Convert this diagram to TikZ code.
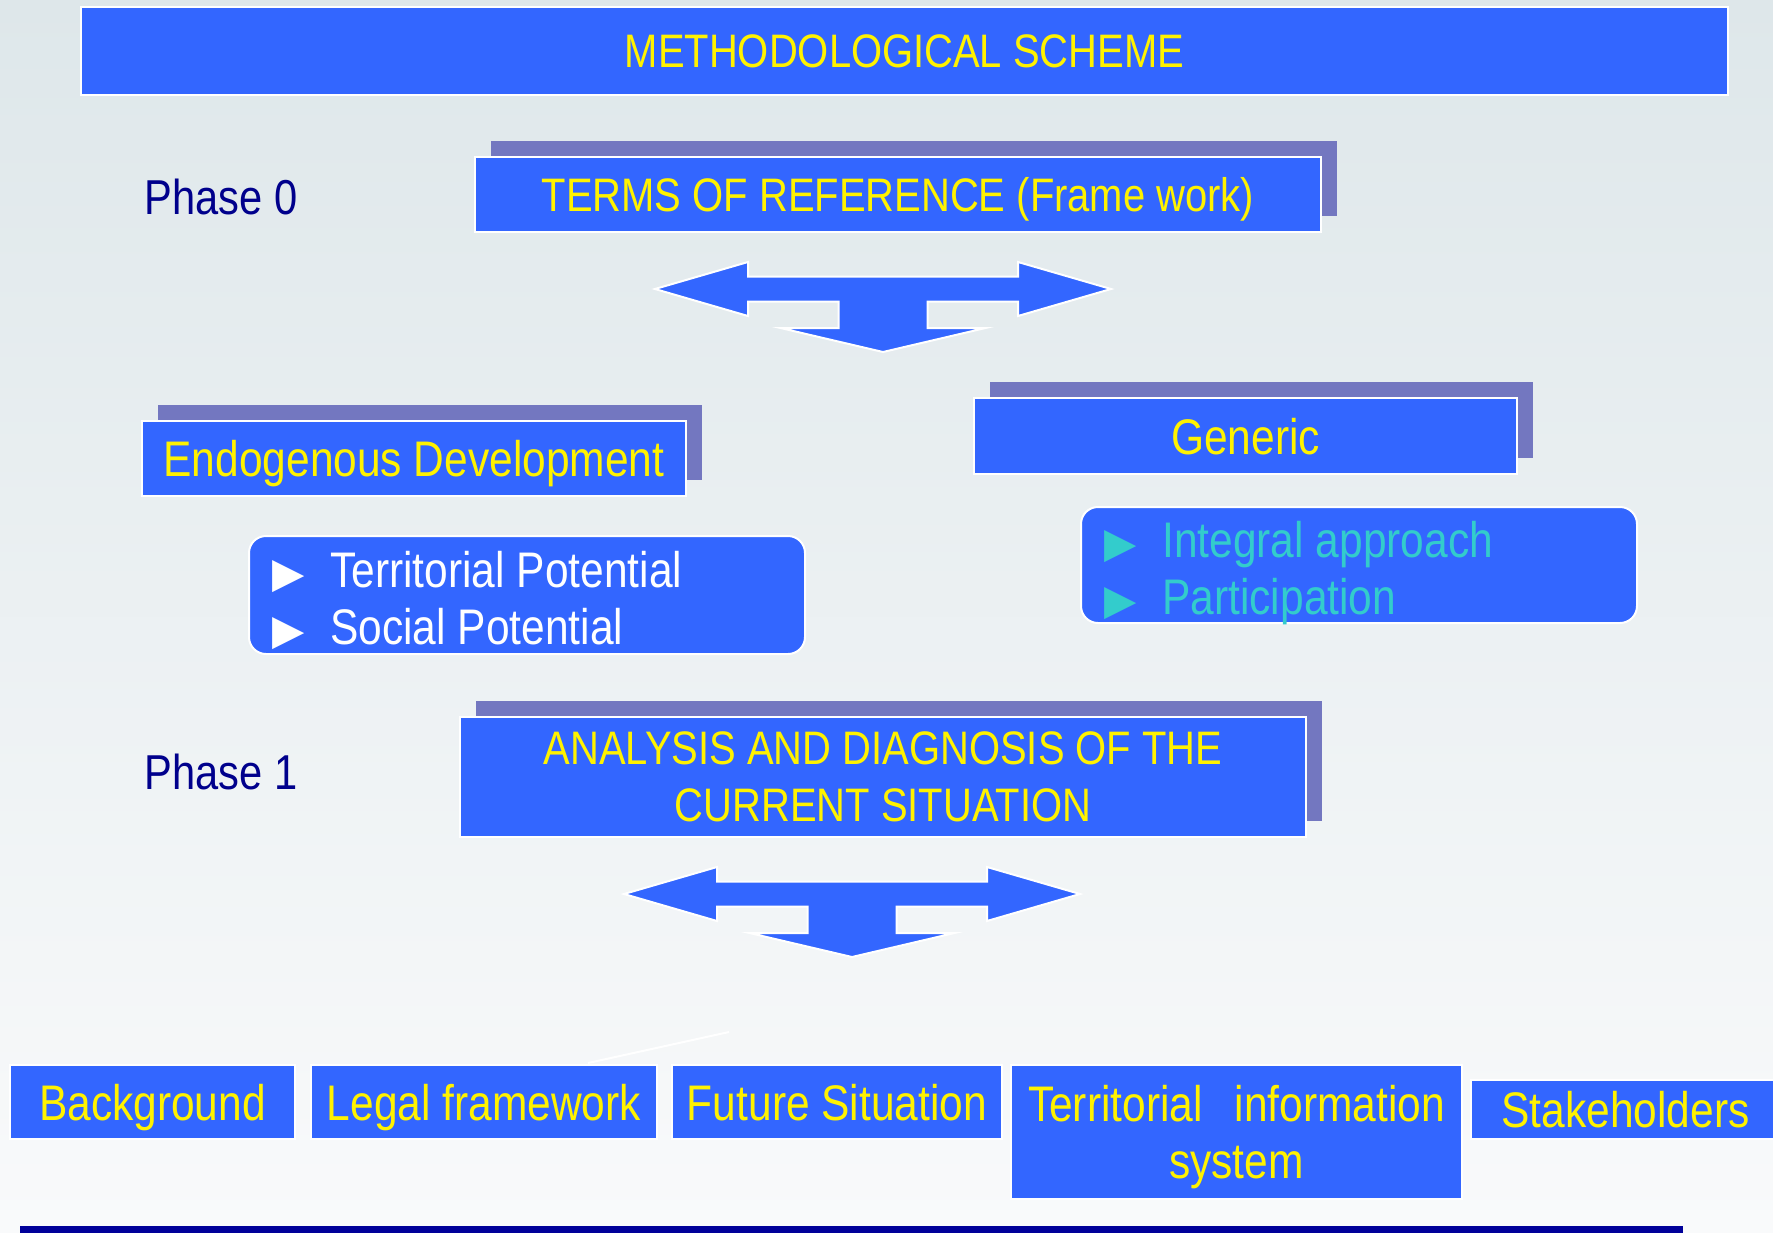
\documentclass[tikz,border=0pt]{standalone}
\usepackage{fontspec}
\setmainfont[FakeStretch=0.85]{Liberation Sans}
\newfontfamily\symfont{DejaVu Sans}
\usepackage{tikz}
\usetikzlibrary{shadows}

\definecolor{boxblue}{RGB}{51,102,255}
\definecolor{shadowblue}{RGB}{115,119,192}
\definecolor{phasenavy}{RGB}{0,0,140}
\definecolor{itemteal}{RGB}{51,204,204}
\definecolor{bgtop}{RGB}{222,231,234}
\definecolor{bgbottom}{RGB}{249,250,251}
\definecolor{barnavy}{RGB}{0,0,153}

\newcommand{\tri}{{\symfont\fontsize{21}{21}\selectfont ▶}\hspace{13pt}}

\begin{document}
\begin{tikzpicture}[x = 0.5pt, y = -0.5pt,
    box/.style = {fill = boxblue, draw = white, line width = 1pt, inner sep = 0pt,
        text depth = 0pt, text = yellow, align = center,
        font = \fontsize{25}{28.5}\selectfont},
    capsbox/.style = {box, font = \fontsize{23.5}{28.5}\selectfont},
    shadowed/.style = {general shadow = {shadow xshift = 8pt, shadow yshift = 8pt,
        fill = shadowblue}},
    listbox/.style = {box, rounded corners = 8.5pt, align = left, inner xsep = 11.5pt,
        text width = 255pt, text height = 21pt, text depth = 28.5pt,
        minimum height = 59pt},
    phase/.style = {anchor = west, inner sep = 0pt, text = phasenavy,
        font = \fontsize{24.5}{28.5}\selectfont},
    splitarrow/.pic = {
        \filldraw[fill = boxblue, draw = white, line width = 1pt]
            (-228, 0) -- (-135, -27) -- (-135, -12.5) -- (135, -12.5) -- (135, -27)
            -- (228, 0) -- (135, 27) -- (135, 12.5) -- (44.5, 12.5) -- (44.5, 39)
            -- (102.5, 39) -- (0, 63) -- (-102.5, 39) -- (-44.5, 39) -- (-44.5, 12.5)
            -- (-135, 12.5) -- (-135, 27) -- cycle;
    }]
    \clip (0, 0) rectangle (1773, 1232);
    \shade[top color = bgtop, bottom color = bgbottom] (0, 0) rectangle (1773, 1232);

    %% title
    \node[capsbox, minimum width = 823.5pt, minimum height = 44pt] (title)
        at (904.5, 51) {METHODOLOGICAL SCHEME};

    %% phase 0
    \node[phase] (phase0) at (144, 197) {Phase 0};
    \node[capsbox, shadowed, minimum width = 423pt, minimum height = 37.5pt] (terms)
        at (898, 194.5) {TERMS OF REFERENCE (Frame work)};
    \pic at (883, 289) {splitarrow};

    \node[box, shadowed, minimum width = 272pt, minimum height = 37.5pt] (endo)
        at (414, 458.5) {Endogenous Development};
    \node[box, shadowed, minimum width = 271.5pt, minimum height = 38pt] (generic)
        at (1245.5, 436) {Generic};
    \node[listbox, text = white] (potential) at (527, 595)
        {\spaceskip=0pt \tri Territorial Potential\\ \tri Social Potential};
    \node[listbox, text = itemteal, minimum height = 58pt] (approach) at (1359, 565)
        {\spaceskip=0pt \tri Integral approach\\ \tri Participation};

    %% phase 1
    \node[phase] (phase1) at (144, 772) {Phase 1};
    \node[capsbox, shadowed, minimum width = 423pt, minimum height = 60pt] (analysis)
        at (883, 777) {ANALYSIS AND DIAGNOSIS OF THE\\ CURRENT SITUATION};
    \pic at (852, 894) {splitarrow};

    %% components
    \draw[white, line width = 1pt] (588, 1063) -- (729, 1032);
    \node[box, minimum width = 142.5pt, minimum height = 37pt] (background)
        at (152.5, 1102) {Background};
    \node[box, minimum width = 173pt, minimum height = 37pt] (legal)
        at (484, 1102) {Legal framework};
    \node[box, minimum width = 165pt, minimum height = 37pt] (future)
        at (837, 1102) {Future Situation};
    \node[box, minimum width = 225.5pt, minimum height = 67pt] (tis)
        at (1236.5, 1132) {Territorial\hspace{16pt}information\\ system};
    \node[box, minimum width = 154.5pt, minimum height = 29.5pt] (stakeholders)
        at (1625.5, 1109.5) {Stakeholders};

    %% bottom rule
    \fill[barnavy] (20, 1226) rectangle (1683, 1240);
\end{tikzpicture}
\end{document}
